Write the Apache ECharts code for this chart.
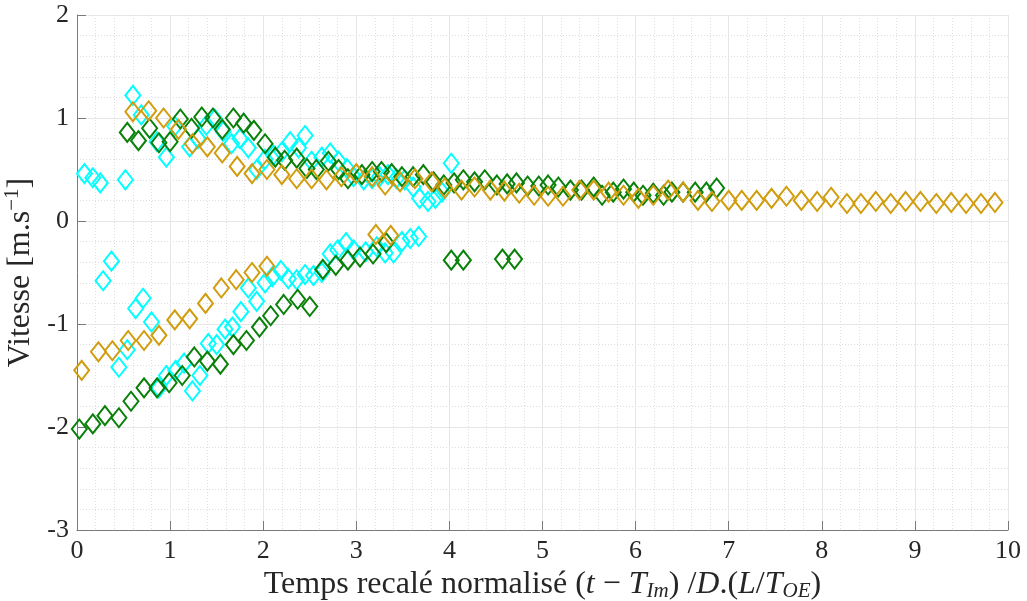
<!DOCTYPE html>
<html>
<head>
<meta charset="utf-8">
<script src="https://cdn.jsdelivr.net/npm/echarts@6/dist/echarts.min.js"></script>
<style>html,body{margin:0;padding:0;background:#fff;}#c{width:1027px;height:601px;}</style>
</head>
<body>
<div id="c"></div>
<script>
// ---- Data ----
const xTicks = [0,1,2,3,4,5,6,7,8,9,10];
const yTicks = [-3,-2,-1,0,1,2];

const cyanUpperX = [0.08,0.17,0.25,0.52,0.60,0.69,0.86,0.96,1.05,1.21,1.30,1.39,1.48,1.57,1.66,1.75,1.84,1.93,2.02,2.11,2.20,2.29,2.38,2.45,2.52,2.63,2.72,2.81,2.90,2.97,3.08,3.17,3.25,3.34,3.43,3.52,3.61,3.68,3.77,3.85,3.92,4.02];
const cyanUpperY = [0.46,0.42,0.37,0.40,1.22,1.03,0.77,0.62,0.92,0.72,0.80,0.93,0.99,0.87,0.75,0.80,0.71,0.50,0.60,0.64,0.67,0.77,0.71,0.83,0.58,0.62,0.66,0.58,0.51,0.43,0.40,0.41,0.43,0.45,0.41,0.40,0.33,0.22,0.19,0.22,0.28,0.56];
const cyanLowerX = [0.28,0.37,0.45,0.54,0.63,0.71,0.80,0.88,0.96,1.06,1.15,1.24,1.32,1.41,1.50,1.59,1.67,1.76,1.84,1.93,2.02,2.10,2.19,2.27,2.36,2.45,2.54,2.63,2.72,2.80,2.89,2.97,3.10,3.22,3.31,3.40,3.49,3.58,3.67];
const cyanLowerY = [-0.58,-0.39,-1.42,-1.25,-0.85,-0.75,-0.98,-1.62,-1.50,-1.45,-1.38,-1.65,-1.50,-1.19,-1.20,-1.05,-1.03,-0.88,-0.65,-0.78,-0.60,-0.54,-0.48,-0.56,-0.57,-0.52,-0.53,-0.50,-0.32,-0.28,-0.21,-0.28,-0.30,-0.25,-0.31,-0.31,-0.20,-0.17,-0.15];

const greenUpperX = [0.54,0.66,0.78,0.88,1.00,1.11,1.23,1.34,1.46,1.56,1.68,1.79,1.90,2.02,2.13,2.23,2.36,2.47,2.57,2.70,2.81,2.91,3.06,3.17,3.27,3.38,3.49,3.61,3.72,3.83,3.94,4.05,4.15,4.27,4.38,4.51,4.62,4.72,4.84,4.96,5.06,5.17,5.30,5.42,5.55,5.64,5.76,5.87,5.98,6.08,6.19,6.30,6.39,6.51,6.64,6.76,6.87];
const greenUpperY = [0.86,0.78,0.90,0.76,0.77,0.99,0.90,1.01,1.00,0.89,1.00,0.95,0.88,0.75,0.62,0.59,0.61,0.51,0.50,0.58,0.50,0.41,0.45,0.48,0.48,0.46,0.43,0.43,0.45,0.38,0.35,0.37,0.40,0.38,0.40,0.35,0.36,0.37,0.34,0.34,0.35,0.33,0.30,0.30,0.33,0.25,0.28,0.31,0.28,0.25,0.27,0.25,0.28,0.28,0.28,0.28,0.32];
const greenLowerX = [0.025,0.17,0.30,0.45,0.58,0.72,0.86,0.99,1.13,1.26,1.40,1.54,1.68,1.82,1.96,2.08,2.22,2.37,2.50,2.64,2.78,2.91,3.04,3.18,3.32,4.02,4.15,4.57,4.70];
const greenLowerY = [-2.02,-1.97,-1.89,-1.91,-1.75,-1.62,-1.62,-1.57,-1.50,-1.32,-1.36,-1.39,-1.20,-1.16,-1.03,-0.92,-0.81,-0.76,-0.83,-0.47,-0.43,-0.38,-0.35,-0.32,-0.21,-0.38,-0.38,-0.37,-0.37];

const goldUpperX = [0.60,0.77,0.93,1.09,1.24,1.40,1.56,1.72,1.88,2.04,2.20,2.36,2.52,2.68,2.84,3.00,3.17,3.31,3.47,3.63,3.81,3.95,4.13,4.27,4.44,4.59,4.75,4.91,5.06,5.22,5.40,5.55,5.71,5.87,6.03,6.19,6.35,6.51,6.67,6.82,7.00,7.14,7.30,7.46,7.62,7.78,7.95,8.10,8.27,8.42,8.58,8.74,8.90,9.06,9.23,9.39,9.55,9.71,9.86];
const goldUpperY = [1.06,1.07,1.00,0.89,0.75,0.72,0.66,0.53,0.46,0.50,0.45,0.41,0.41,0.40,0.43,0.46,0.43,0.35,0.38,0.41,0.38,0.32,0.30,0.33,0.30,0.29,0.27,0.25,0.24,0.24,0.30,0.30,0.28,0.25,0.22,0.25,0.30,0.28,0.20,0.19,0.20,0.20,0.20,0.22,0.24,0.20,0.19,0.23,0.17,0.17,0.19,0.17,0.19,0.19,0.17,0.18,0.17,0.17,0.18];
const goldLowerX = [0.05,0.23,0.38,0.55,0.72,0.88,1.05,1.21,1.38,1.55,1.71,1.88,2.04,3.21,3.37];
const goldLowerY = [-1.45,-1.27,-1.26,-1.16,-1.16,-1.11,-0.96,-0.95,-0.80,-0.65,-0.57,-0.50,-0.44,-0.13,-0.14];

const seriesNames = ['cyan','green','gold'];
const seriesColors = ['#00FFFF','#0A800A','#D19D0E'];

function pairs(xs, ys){ return xs.map((x,i)=>[x, ys[i]]); }

const seriesData = [
  pairs(cyanUpperX, cyanUpperY).concat(pairs(cyanLowerX, cyanLowerY)),
  pairs(greenUpperX, greenUpperY).concat(pairs(greenLowerX, greenLowerY)),
  pairs(goldUpperX, goldUpperY).concat(pairs(goldLowerX, goldLowerY))
];

const FONT = '"Liberation Serif", "DejaVu Serif", serif';
const TXT = '#262626';
const TS = 32;   // axis title font size
const SS = 21;   // sub/superscript size

const chart = echarts.init(document.getElementById('c'), null, {renderer:'canvas'});

const axisCommon = {
  type: 'value',
  axisLine: {show:true, onZero:false, lineStyle:{color:'#7a7a7a', width:1}},
  axisTick: {show:true, inside:true, length:9, lineStyle:{color:'#7a7a7a'}},
  axisLabel: {color:TXT, fontFamily:FONT, fontSize:26},
  splitLine: {show:true, lineStyle:{color:'#e6e6e6', width:1}},
  minorTick: {show:false, splitNumber:5},
  minorSplitLine: {show:true, lineStyle:{color:'#dedede', width:1, type:[1,2]}},
  nameLocation: 'middle'
};

chart.setOption({
  animation: false,
  backgroundColor: '#ffffff',
  grid: {left:77, right:19, top:15, bottom:71, containLabel:false, outerBoundsMode:'none'},
  xAxis: Object.assign({}, axisCommon, {
    min: xTicks[0], max: xTicks[xTicks.length-1], interval: 1,
    axisLabel: Object.assign({}, axisCommon.axisLabel, {margin:8}),
    name: '{n|Temps recalé normalisé (}{i|t}{n| − }{i|T}{s|Im}{n|) /}{i|D}{n|.(}{i|L}{n|/}{i|T}{s|OE}{n|)}',
    nameGap: 31,
    nameTextStyle: {
      color:TXT, fontFamily:FONT, fontSize:TS,
      rich: {
        n: {fontFamily:FONT, fontSize:TS, color:TXT, verticalAlign:'top', lineHeight:38},
        i: {fontFamily:FONT, fontSize:TS, color:TXT, fontStyle:'italic', verticalAlign:'top', lineHeight:38},
        s: {fontFamily:FONT, fontSize:SS, color:TXT, fontStyle:'italic', verticalAlign:'top', lineHeight:38, padding:[12,0,0,0]}
      }
    }
  }),
  yAxis: Object.assign({}, axisCommon, {
    min: yTicks[0], max: yTicks[yTicks.length-1], interval: 1,
    axisLabel: Object.assign({}, axisCommon.axisLabel, {margin:8}),
    name: '{n|Vitesse [m.s}{p|−1}{n|]}',
    nameGap: 36,
    nameTextStyle: {
      color:TXT, fontFamily:FONT, fontSize:TS,
      rich: {
        n: {fontFamily:FONT, fontSize:TS, color:TXT, verticalAlign:'bottom', lineHeight:38},
        p: {fontFamily:FONT, fontSize:SS, color:TXT, verticalAlign:'bottom', lineHeight:38, padding:[0,0,13,0]}
      }
    }
  }),
  series: seriesData.map((d, k) => ({
    name: seriesNames[k],
    type: 'scatter',
    data: d,
    symbol: 'diamond',
    symbolSize: [15, 19],
    itemStyle: {color:'rgba(0,0,0,0)', borderColor: seriesColors[k], borderWidth: 2, opacity:1},
    emphasis: {disabled:true},
    z: 2 + k
  }))
});
</script>
</body>
</html>
